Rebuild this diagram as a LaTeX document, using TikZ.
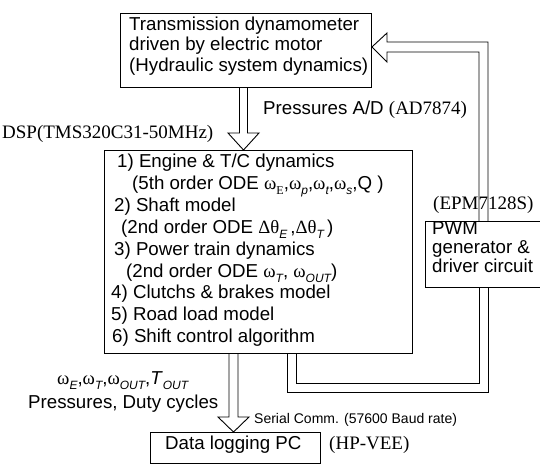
\documentclass[tikz,border=0pt]{standalone}
\usepackage{fontspec}
\setmainfont{Liberation Sans}
\newfontfamily\tms{Liberation Serif}
\newcommand\sbr[1]{\raisebox{-0.25em}{\fontsize{12}{12}\selectfont\tms #1}}
\newcommand\sbi[1]{\raisebox{-0.25em}{\fontsize{12}{12}\selectfont\itshape #1}}
\newcommand\om{{\tms ω}}
\newcommand\Dth{{\tms Δθ}}
\begin{document}
\begin{tikzpicture}[x=1pt,y=-1pt,
  box/.style={draw, line width=0.9pt, inner sep=0pt, anchor=north west},
  txt/.style={inner sep=0pt, anchor=west, font=\fontsize{18.7}{20}\selectfont, text height=0.75em, text depth=0.22em},
  sertxt/.style={txt, font=\fontsize{19}{20}\selectfont\tms},
  smalltxt/.style={txt, font=\fontsize{14}{15}\selectfont},
  ln/.style={line width=0.9pt, line join=miter}]
\useasboundingbox (0,0) rectangle (540,466);
% boxes
\node[box, minimum width=251pt, minimum height=74pt] (dyn) at (120,13) {};
\node[box, minimum width=308pt, minimum height=203pt] (dsp) at (104,150) {};
\node[box, minimum width=114.5pt, minimum height=66pt] (pwm) at (425,221) {};
\node[box, minimum width=170pt, minimum height=31pt] (pc) at (150,432) {};
% hollow arrow: dynamometer -> DSP
\draw[ln] (239.5,0 |- dyn.south) -- (239.5,133) -- (228,133) -- (243.5,0 |- dsp.north)
  -- (259,133) -- (247.5,133) -- (247.5,0 |- dyn.south);
% hollow arrow: DSP -> PC
\draw[ln] (229,0 |- dsp.south) -- (229,417) -- (218,417) -- (233.5,0 |- pc.north)
  -- (249,417) -- (238,417) -- (238,0 |- dsp.south);
% hollow feedback arrow: DSP -> PWM -> dynamometer
\draw[ln] (287,0 |- dsp.south) -- (287,392) -- (488,392) -- (488,0 |- pwm.south);
\draw[ln] (296,0 |- dsp.south) -- (296,383) -- (479,383) -- (479,0 |- pwm.south);
\draw[ln] (488,0 |- pwm.north) -- (488,42) -- (387,42) -- (387,33) -- (dyn.east |- 0,47)
  -- (387,62) -- (387,52) -- (479,52) -- (479,0 |- pwm.north);
% top box text
\node[txt] (t1) at (129,27.5) {Transmission dynamometer};
\node[txt] (t2) at (129,48) {driven by electric motor};
\node[txt] (t3) at (129,68.5) {(Hydraulic system dynamics)};
% labels
\node[txt] (pad) at (263,112) {Pressures A/D {\fontsize{19}{20}\selectfont\tms (AD7874)}};
\node[sertxt] (dspl) at (2,136) {DSP(TMS320C31-50MHz)};
% DSP box text
\node[txt] (l1) at (117,165) {1) Engine \& T/C dynamics};
\node[txt] (l2) at (132,187) {(5th order ODE \om\sbr{E},\om\sbi{p},\om\sbi{t},\om\sbi{s},Q )};
\node[txt] (l3) at (114,209) {2) Shaft model};
\node[txt] (l4) at (121,231) {(2nd order ODE \Dth\sbi{E}\,,\Dth\sbi{T}\,)};
\node[txt] (l5) at (114,253) {3) Power train dynamics};
\node[txt] (l6) at (126,275) {(2nd order ODE \om\sbi{T}, \om\sbi{OUT})};
\node[txt] (l7) at (111,296) {4) Clutchs \& brakes model};
\node[txt] (l8) at (111,318) {5) Road load model};
\node[txt] (l9) at (112,340) {6) Shift control algorithm};
% PWM
\node[sertxt] (epm) at (433,207) {(EPM7128S)};
\node[txt] (p1) at (432,232) {PWM};
\node[txt] (p2) at (432,251) {generator \&};
\node[txt] (p3) at (432,270) {driver circuit};
% bottom labels
\node[txt] (b1) at (57,382) {\om\sbi{E},\om\sbi{T},\om\sbi{OUT},\textit{T}\sbi{OUT}};
\node[txt] (b2) at (28,406) {Pressures, Duty cycles};
\node[smalltxt] (serial) at (254,421) {Serial Comm. (57600 Baud rate)};
\node[txt] (pct) at (165,447) {Data logging PC};
\node[sertxt] (hp) at (329,447) {(HP-VEE)};
\end{tikzpicture}
\end{document}
